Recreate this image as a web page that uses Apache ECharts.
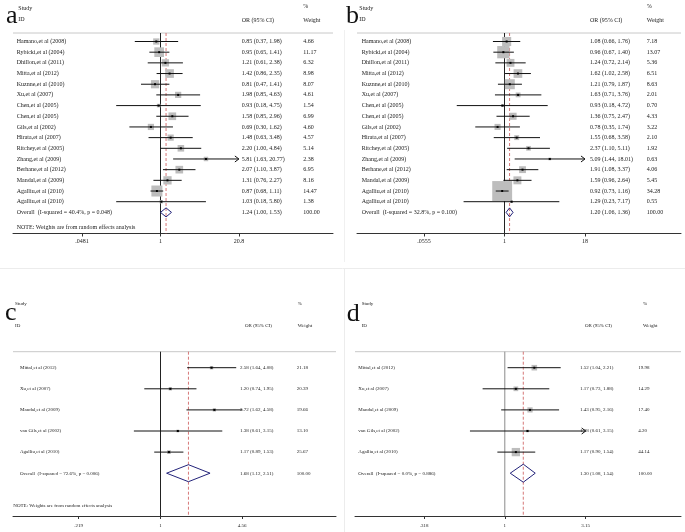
<!DOCTYPE html>
<html><head><meta charset="utf-8">
<script src="https://cdn.jsdelivr.net/npm/echarts@6/dist/echarts.min.js"></script>
<style>html,body{margin:0;padding:0;background:#fff}#c{width:685px;height:532px}</style>
</head><body><div id="c"></div>
<script>
// ---------------- DATA ----------------
const studiesAB = ['Hamano,et al (2008)','Rybicki,et al (2004)','Dhillon,et al (2011)','Mitta,et al (2012)','Kuznne,et al (2010)','Xu,et al (2007)','Chen,et al (2005)','Chen,et al (2005)','Gils,et al (2002)','Hirata,et al (2007)','Ritchey,et al (2005)','Zhang,et al (2009)','Berhane,et al (2012)','Mandal,et al (2009)','Agalliu,et al (2010)','Agalliu,et al (2010)'];
const orA     = [0.85,0.95,1.21,1.42,0.81,1.98,0.93,1.58,0.69,1.48,2.20,5.81,2.07,1.31,0.87,1.03];
const lowerA  = [0.37,0.65,0.61,0.86,0.47,0.85,0.18,0.85,0.30,0.63,1.00,1.63,1.10,0.76,0.68,0.18];
const upperA  = [1.98,1.41,2.38,2.35,1.41,4.63,4.75,2.96,1.62,3.48,4.84,20.77,3.87,2.27,1.11,5.80];
const weightA = [4.66,11.17,6.32,8.98,8.07,4.61,1.54,6.99,4.60,4.57,5.14,2.38,6.95,8.16,14.47,1.38];
const overallA = [1.24,1.00,1.53];
const overallLabelA = 'Overall  (I-squared = 40.4%, p = 0.048)';
const ticksA = [0.0481,1,20.8];
const tickLabelsA = ['.0481','1','20.8'];
const clippedA = [11];

const orB     = [1.08,0.96,1.24,1.62,1.21,1.63,0.93,1.36,0.78,1.55,2.37,5.09,1.91,1.59,0.92,1.29];
const lowerB  = [0.66,0.67,0.72,1.02,0.79,0.71,0.18,0.75,0.35,0.68,1.10,1.44,1.08,0.96,0.73,0.23];
const upperB  = [1.76,1.40,2.14,2.58,1.87,3.76,4.72,2.47,1.74,3.58,5.11,18.01,3.37,2.64,1.16,7.17];
const weightB = [7.18,13.07,5.36,6.51,8.63,2.01,0.70,4.33,3.22,2.10,1.92,0.63,4.06,5.45,34.28,0.55];
const overallB = [1.20,1.06,1.36];
const overallLabelB = 'Overall  (I-squared = 32.8%, p = 0.100)';
const ticksB = [0.0555,1,18];
const tickLabelsB = ['.0555','1','18'];
const clippedB = [11];

const studiesCD = ['Mittal,et al (2012)','Xu,et al (2007)','Mandal,et al (2009)','van Gils,et al (2002)','Agalliu,et al (2010)'];
const orC     = [2.58,1.20,2.72,1.38,1.17];
const lowerC  = [1.64,0.74,1.62,0.61,0.89];
const upperC  = [4.08,1.95,4.58,3.15,1.53];
const weightC = [21.18,20.39,19.66,13.10,25.67];
const overallC = [1.68,1.12,2.51];
const overallLabelC = 'Overall  (I-squared = 72.6%, p = 0.006)';
const ticksC = [0.219,1,4.56];
const tickLabelsC = ['.219','1','4.56'];
const clippedC = [];

const orD     = [1.52,1.17,1.43,1.38,1.17];
const lowerD  = [1.04,0.73,0.95,0.61,0.90];
const upperD  = [2.21,1.88,2.16,3.15,1.54];
const weightD = [19.98,14.29,17.40,4.20,44.14];
const overallD = [1.30,1.08,1.54];
const overallLabelD = 'Overall  (I-squared = 0.0%, p = 0.886)';
const ticksD = [0.318,1,3.15];
const tickLabelsD = ['.318','1','3.15'];
const clippedD = [3];

const noteText = 'NOTE: Weights are from random effects analysis';

// ---------------- LAYOUT ----------------
const SERIF = '"Liberation Serif","Times New Roman",serif';
const panels = [
  {letter:'a', names:studiesAB, or:orA, lo:lowerA, hi:upperA, w:weightA, ov:overallA, ovLabel:overallLabelA, ticks:ticksA, tickLabels:tickLabelsA, clipped:clippedA, note:true,
   L:{left:13,right:333,top:33,bottom:233.5,p1:160.5,s:59.5,y0:41.5,step:10.68,k:2.9,dh:9,fs:6,nameX:16.7,orX:241.7,wX:303.3,noteX:16.7,noteY:227.7,refColor:'#222',
      letterX:6,letterBase:25,studyX:18.3,studyY:8.3,idY:19.3,orHX:241.7,pctX:303.3,pctY:6.7,hY:20,labelMargin:5}},
  {letter:'b', names:studiesAB, or:orB, lo:lowerB, hi:upperB, w:weightB, ov:overallB, ovLabel:overallLabelB, ticks:ticksB, tickLabels:tickLabelsB, clipped:clippedB, note:false,
   L:{left:357,right:681,top:33,bottom:233.5,p1:504.5,s:64.1,y0:41.5,step:10.68,k:3.4,dh:9,fs:6,nameX:361.7,orX:590,wX:646.7,refColor:'#222',
      letterX:346,letterBase:25,studyX:359.3,studyY:8.3,idY:19.3,orHX:590,pctX:646.7,pctY:6.7,hY:20,labelMargin:5}},
  {letter:'c', names:studiesCD, or:orC, lo:lowerC, hi:upperC, w:weightC, ov:overallC, ovLabel:overallLabelC, ticks:ticksC, tickLabels:tickLabelsC, clipped:clippedC, note:true,
   L:{left:13,right:336,top:351.7,bottom:516,p1:160.5,s:124,y0:367.7,step:21.1,k:0.75,dh:17,fs:5,nameX:20,orX:240,wX:296.7,noteX:13.3,noteY:506,refColor:'#222',
      letterX:5,letterBase:321.7,studyX:15,studyY:303.3,idY:326,orHX:245,pctX:297.7,pctY:303.3,hY:326,labelMargin:7}},
  {letter:'d', names:studiesCD, or:orD, lo:lowerD, hi:upperD, w:weightD, ov:overallD, ovLabel:overallLabelD, ticks:ticksD, tickLabels:tickLabelsD, clipped:clippedD, note:false,
   L:{left:355,right:681,top:351.7,bottom:516,p1:504.8,s:162.3,y0:367.7,step:21.1,k:1.25,dh:18,fs:5,nameX:358.3,orX:580,wX:638.3,refColor:'#8a8a8a',
      letterX:346.7,letterBase:323.3,studyX:361.7,studyY:303.3,idY:326,orHX:585,pctX:643,pctY:303.3,hY:326,labelMargin:7}}
];

const fmtOR = (o,l,h) => o.toFixed(2)+' ('+l.toFixed(2)+', '+h.toFixed(2)+')';
function txt(text,x,y,fs,extra){
  return Object.assign({type:'text', style:{text:text, x:x, y:y, fontSize:fs, fontFamily:SERIF, fill:'#222', verticalAlign:'middle', align:'left'}}, extra||{});
}

const grids=[], xAxes=[], yAxes=[], series=[], graphics=[];
panels.forEach(function(p, idx){
  const L = p.L;
  grids.push({left:L.left, top:L.top, width:L.right-L.left, height:L.bottom-L.top});
  const lblFor = function(v){
    let best=0, bd=1e9;
    p.ticks.forEach(function(t,j){ const d=Math.abs(Math.log(t)-Math.log(v)); if(d<bd){bd=d;best=j;} });
    return p.tickLabels[best];
  };
  xAxes.push({type:'log', logBase:10, gridIndex:idx, position:'bottom',
    min:Math.pow(10, -(L.p1-L.left)/L.s), max:Math.pow(10, (L.right-L.p1)/L.s),
    axisLine:{show:true, onZero:false, lineStyle:{color:'#333', width:1}},
    axisTick:{show:true, customValues:p.ticks, length:3, lineStyle:{color:'#333', width:1}},
    axisLabel:{show:true, customValues:p.ticks, formatter:lblFor, fontSize:L.fs, fontFamily:SERIF, color:'#222', margin:L.labelMargin},
    splitLine:{show:false}, minorTick:{show:false}, minorSplitLine:{show:false}});
  const n = p.names.length;
  yAxes.push({type:'value', gridIndex:idx, inverse:true, show:false,
    min:(L.top-L.y0)/L.step, max:(L.bottom-L.y0)/L.step, splitLine:{show:false}, axisLine:{onZero:false}});

  // frame: header line, reference line at 1, dashed overall line, note
  series.push({type:'custom', xAxisIndex:idx, yAxisIndex:idx, silent:true, clip:false, z:1,
    data:[[1,0]],
    renderItem:function(params, api){
      const cs = params.coordSys;
      const x1 = api.coord([1,0])[0];
      const xo = api.coord([p.ov[0],0])[0];
      const ch = [
        {type:'line', shape:{x1:cs.x, y1:cs.y, x2:cs.x+cs.width, y2:cs.y}, style:{stroke:'#c8c8c8', lineWidth:1}},
        {type:'line', shape:{x1:x1, y1:cs.y, x2:x1, y2:cs.y+cs.height}, style:{stroke:L.refColor, lineWidth:1}},
        {type:'line', shape:{x1:xo, y1:cs.y, x2:xo, y2:cs.y+cs.height}, style:{stroke:'#cc5555', lineWidth:0.8, lineDash:[3,2]}}
      ];
      if(p.note){ ch.push(txt(noteText, L.noteX, L.noteY, L.fs)); }
      return {type:'group', children:ch};
    }});

  // rows
  const rows = [];
  for(let i=0;i<n;i++){ rows.push([p.or[i], i, p.lo[i], p.hi[i], p.w[i], 0]); }
  rows.push([p.ov[0], n, p.ov[1], p.ov[2], 100, 1]);
  series.push({type:'custom', xAxisIndex:idx, yAxisIndex:idx, silent:true, clip:false, z:2,
    data:rows,
    renderItem:function(params, api){
      const i = api.value(1), type = api.value(5);
      const c = api.coord([api.value(0), i]);
      const xl = api.coord([api.value(2), i])[0];
      const xh = api.coord([api.value(3), i])[0];
      const cy = c[1];
      const ch = [];
      const oText = fmtOR(api.value(0), api.value(2), api.value(3));
      if(type===0){
        const side = L.k*Math.sqrt(api.value(4));
        ch.push({type:'rect', shape:{x:c[0]-side/2, y:cy-side/2, width:side, height:side}, style:{fill:'#bdbdbd'}});
        ch.push({type:'line', shape:{x1:xl, y1:cy, x2:xh, y2:cy}, style:{stroke:'#111', lineWidth:1}});
        if(p.clipped.indexOf(i)>=0){
          ch.push({type:'polyline', shape:{points:[[xh-4,cy-3],[xh,cy],[xh-4,cy+3]]}, style:{stroke:'#111', lineWidth:1, fill:null}});
        }
        ch.push({type:'rect', shape:{x:c[0]-1, y:cy-1, width:2, height:2}, style:{fill:'#000'}});
        ch.push(txt(p.names[i], L.nameX, cy, L.fs));
        ch.push(txt(api.value(4).toFixed(2), L.wX, cy, L.fs));
      } else {
        const h = L.dh/2;
        ch.push({type:'polygon', shape:{points:[[xl,cy],[c[0],cy-h],[xh,cy],[c[0],cy+h]]}, style:{stroke:'#23237a', lineWidth:1, fill:'rgba(255,255,255,0)'}});
        ch.push(txt(p.ovLabel, L.nameX, cy, L.fs));
        ch.push(txt('100.00', L.wX, cy, L.fs));
      }
      ch.push(txt(oText, L.orX, cy, L.fs));
      return {type:'group', children:ch};
    }});

  // headers and letters
  graphics.push({type:'text', x:L.letterX, y:L.letterBase-8.8, style:{text:p.letter, fontSize:26, fontFamily:SERIF, fill:'#111', verticalAlign:'middle'}});
  graphics.push({type:'text', x:L.studyX, y:L.studyY, style:{text:'Study', fontSize:L.fs, fontFamily:SERIF, fill:'#222', verticalAlign:'middle'}});
  graphics.push({type:'text', x:L.studyX, y:L.idY, style:{text:'ID', fontSize:L.fs, fontFamily:SERIF, fill:'#222', verticalAlign:'middle'}});
  graphics.push({type:'text', x:L.orHX, y:L.hY, style:{text:'OR (95% CI)', fontSize:L.fs, fontFamily:SERIF, fill:'#222', verticalAlign:'middle'}});
  graphics.push({type:'text', x:L.pctX, y:L.pctY, style:{text:'%', fontSize:L.fs, fontFamily:SERIF, fill:'#222', verticalAlign:'middle'}});
  graphics.push({type:'text', x:L.pctX, y:L.hY, style:{text:'Weight', fontSize:L.fs, fontFamily:SERIF, fill:'#222', verticalAlign:'middle'}});
});
// faint panel borders
graphics.push({type:'line', shape:{x1:0, y1:268.5, x2:685, y2:268.5}, style:{stroke:'#ececec', lineWidth:1}});
graphics.push({type:'line', shape:{x1:344.5, y1:268, x2:344.5, y2:532}, style:{stroke:'#ececec', lineWidth:1}});
graphics.push({type:'line', shape:{x1:344.5, y1:30, x2:344.5, y2:262}, style:{stroke:'#f0f0f0', lineWidth:1}});

const chart = echarts.init(document.getElementById('c'), null, {renderer:'canvas'});
chart.setOption({
  animation:false,
  backgroundColor:'#fff',
  grid:grids, xAxis:xAxes, yAxis:yAxes, series:series, graphic:graphics
});
</script>
</body></html>
